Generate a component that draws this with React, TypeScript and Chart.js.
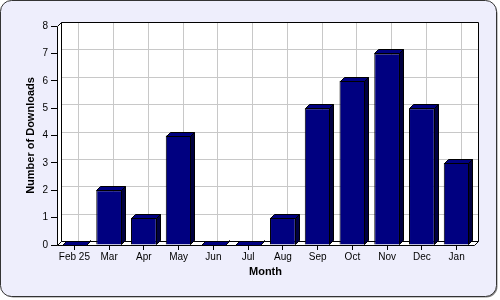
import React, { useEffect, useRef } from "react";
import { Chart, registerables } from "chart.js";

Chart.register(...registerables);

const categories = ["Feb 25", "Mar", "Apr", "May", "Jun", "Jul", "Aug", "Sep", "Oct", "Nov", "Dec", "Jan"];
const downloads = [0, 2, 1, 4, 0, 0, 1, 5, 6, 7, 5, 3];
const yMin = 0;
const yMax = 8;
const yStep = 1;
const yTitle = "Number of Downloads";
const xTitle = "Month";

const DEPTH = 4;
const BG = "#EEEEFC";
const NAVY = "#000080";
const SIDE = "#000040";
const GRID = "#C8C8C8";
const FONT = "'Liberation Sans', Arial, sans-serif";

function roundRectPath(ctx: CanvasRenderingContext2D, x: number, y: number, w: number, h: number, r: number) {
  ctx.beginPath();
  ctx.moveTo(x + r, y);
  ctx.lineTo(x + w - r, y);
  ctx.arcTo(x + w, y, x + w, y + r, r);
  ctx.lineTo(x + w, y + h - r);
  ctx.arcTo(x + w, y + h, x + w - r, y + h, r);
  ctx.lineTo(x + r, y + h);
  ctx.arcTo(x, y + h, x, y + h - r, r);
  ctx.lineTo(x, y + r);
  ctx.arcTo(x, y, x + r, y, r);
  ctx.closePath();
}

function poly(ctx: CanvasRenderingContext2D, pts: number[][], fill: string | null, stroke: string | null) {
  ctx.beginPath();
  ctx.moveTo(pts[0][0], pts[0][1]);
  for (let i = 1; i < pts.length; i++) ctx.lineTo(pts[i][0], pts[i][1]);
  ctx.closePath();
  if (fill) {
    ctx.fillStyle = fill;
    ctx.fill();
  }
  if (stroke) {
    ctx.strokeStyle = stroke;
    ctx.lineWidth = 1;
    ctx.stroke();
  }
}

const frame3d = {
  id: "frame3d",
  beforeDraw(chart: any) {
    const ctx: CanvasRenderingContext2D = chart.ctx;
    ctx.save();
    roundRectPath(ctx, 2.5, 2.5, 495, 295, 11);
    ctx.fillStyle = "#8a8a8a";
    ctx.fill();
    roundRectPath(ctx, 0.5, 0.5, 496, 296, 11);
    ctx.fillStyle = BG;
    ctx.fill();
    ctx.strokeStyle = "#333";
    ctx.lineWidth = 1;
    ctx.stroke();
    ctx.restore();
  },
  beforeDatasetsDraw(chart: any) {
    const ctx: CanvasRenderingContext2D = chart.ctx;
    const a = chart.chartArea;
    const L = Math.round(a.left) + 0.5;
    const R = Math.round(a.right) + 0.5;
    const T = Math.round(a.top) + 0.5;
    const B = Math.round(a.bottom) + 0.5;
    const D = DEPTH;
    const xs = chart.scales.x;
    const ys = chart.scales.y;
    ctx.save();
    // back wall, left wall, floor
    poly(ctx, [[L + D, T - D], [R + D, T - D], [R + D, B - D], [L + D, B - D]], "#FFFFFF", null);
    poly(ctx, [[L, T], [L + D, T - D], [L + D, B - D], [L, B]], "#FFFFFF", null);
    poly(ctx, [[L, B], [L + D, B - D], [R + D, B - D], [R, B]], "#FFFFFF", null);
    // grid lines on back wall
    ctx.strokeStyle = GRID;
    ctx.lineWidth = 1;
    for (let v = yMin + yStep; v < yMax; v += yStep) {
      const y = Math.round(ys.getPixelForValue(v)) - D + 0.5;
      ctx.beginPath();
      ctx.moveTo(L + D, y);
      ctx.lineTo(R + D, y);
      ctx.stroke();
    }
    for (let i = 0; i < categories.length; i++) {
      const x = Math.round(xs.getPixelForValue(i)) + D + 0.5;
      ctx.beginPath();
      ctx.moveTo(x, T - D);
      ctx.lineTo(x, B - D);
      ctx.stroke();
    }
    // outlines
    ctx.strokeStyle = "#000";
    ctx.beginPath();
    ctx.moveTo(L, B);
    ctx.lineTo(L, T);
    ctx.lineTo(L + D, T - D);
    ctx.lineTo(R + D, T - D);
    ctx.lineTo(R + D, B - D);
    ctx.lineTo(R, B);
    ctx.lineTo(L, B);
    ctx.moveTo(L + D, T - D);
    ctx.lineTo(L + D, B - D);
    ctx.lineTo(R + D, B - D);
    ctx.moveTo(L, B);
    ctx.lineTo(L + D, B - D);
    ctx.stroke();
    ctx.restore();
  },
  afterDatasetsDraw(chart: any) {
    const ctx: CanvasRenderingContext2D = chart.ctx;
    const meta = chart.getDatasetMeta(0);
    const D = DEPTH;
    ctx.save();
    meta.data.forEach((bar: any) => {
      const p = bar.getProps(["x", "y", "base", "width"], true);
      const l = Math.round(p.x - p.width / 2) + 0.5;
      const r = Math.round(p.x + p.width / 2) - 0.5;
      const t = Math.round(p.y) + 0.5;
      const b = Math.round(p.base) - 0.5;
      poly(ctx, [[r, t], [r + D, t - D], [r + D, b - D], [r, b]], SIDE, "#000");
      poly(ctx, [[l, t], [l + D, t - D], [r + D, t - D], [r, t]], NAVY, "#000");
    });
    ctx.restore();
  },
};

export default function App() {
  const ref = useRef<HTMLCanvasElement | null>(null);
  useEffect(() => {
    if (!ref.current) return;
    const chart = new Chart(ref.current, {
      type: "bar",
      data: {
        labels: categories,
        datasets: [
          {
            data: downloads,
            backgroundColor: NAVY,
            borderColor: "#000",
            borderWidth: 1,
            barPercentage: 0.74,
            categoryPercentage: 1,
          },
        ],
      },
      options: {
        responsive: false,
        animation: false,
        layout: { padding: { left: 0, top: 26, right: 26, bottom: 0 } },
        plugins: { legend: { display: false }, tooltip: { enabled: false }, title: { display: false } },
        scales: {
          x: {
            offset: true,
            grid: { display: true, drawOnChartArea: false, drawTicks: true, tickLength: 5, color: "#000", offset: false },
            border: { display: false },
            ticks: { color: "#000", font: { family: FONT, size: 10 }, padding: 1, maxRotation: 0, autoSkip: false },
            title: { display: true, text: xTitle, color: "#000", font: { family: FONT, size: 11, weight: "bold" }, padding: { top: 0, bottom: 21 } },
            afterFit: (s: any) => {
              s.height = 55;
            },
          },
          y: {
            min: yMin,
            max: yMax,
            grid: { display: true, drawOnChartArea: false, drawTicks: true, tickLength: 6, color: "#000" },
            border: { display: false },
            ticks: { stepSize: yStep, color: "#000", font: { family: FONT, size: 10 }, padding: 3 },
            title: { display: true, text: yTitle, color: "#000", font: { family: FONT, size: 11, weight: "bold" }, padding: { top: 24, bottom: 0 } },
            afterFit: (s: any) => {
              s.width = 57;
            },
          },
        },
      },
      plugins: [frame3d],
    } as any);
    return () => chart.destroy();
  }, []);
  return (
    <div style={{ position: "fixed", left: 0, top: 0, width: 500, height: 300 }}>
      <canvas ref={ref} width={500} height={300} style={{ display: "block", width: 500, height: 300 }} />
    </div>
  );
}
